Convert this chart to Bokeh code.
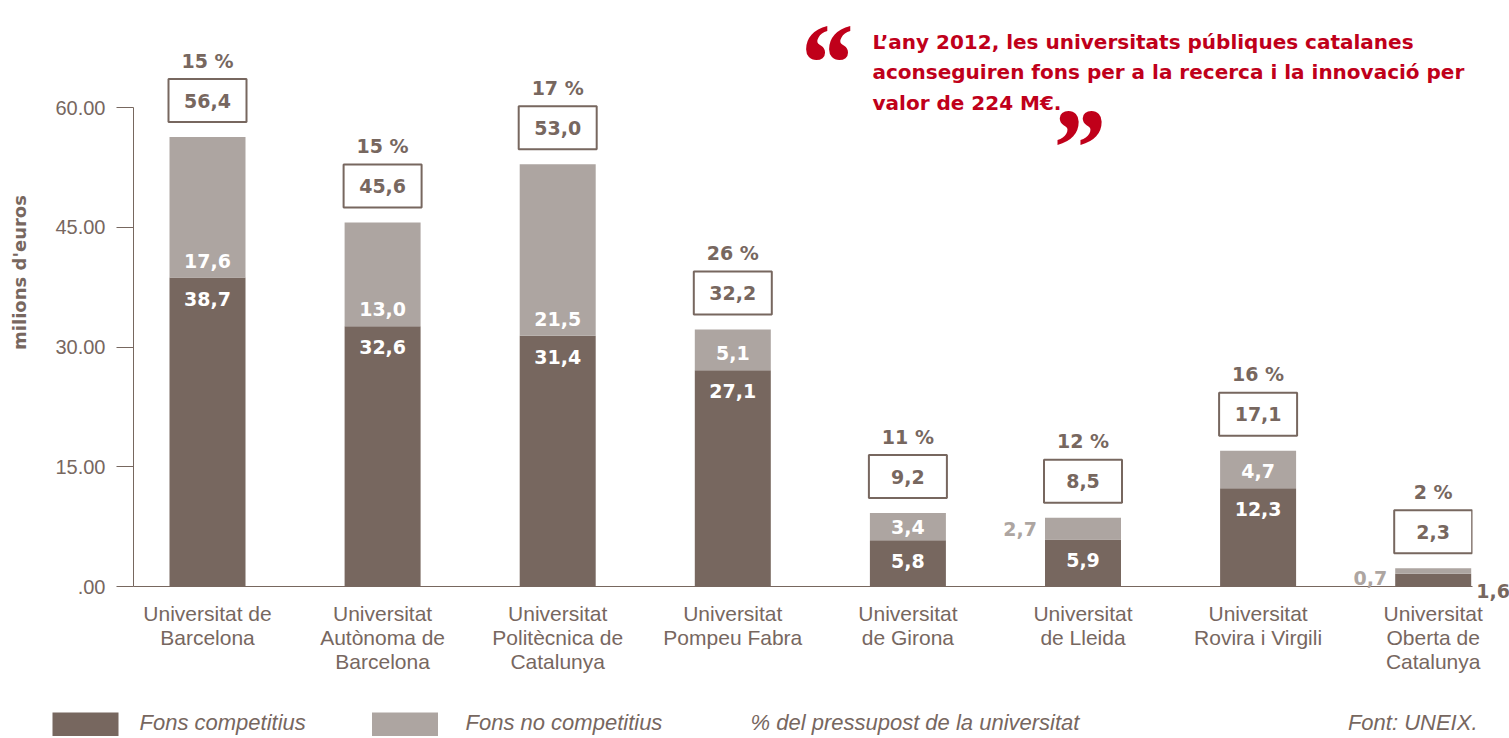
import math
from bokeh.plotting import figure
from bokeh.models import Range1d, FixedTicker
from bokeh.core.properties import value
from bokeh.embed import file_html
from bokeh.resources import INLINE

# ---------------- data ----------------
universities = [
    "Universitat de\nBarcelona",
    "Universitat\nAutònoma de\nBarcelona",
    "Universitat\nPolitècnica de\nCatalunya",
    "Universitat\nPompeu Fabra",
    "Universitat\nde Girona",
    "Universitat\nde Lleida",
    "Universitat\nRovira i Virgili",
    "Universitat\nOberta de\nCatalunya",
]
fons_competitius = [38.7, 32.6, 31.4, 27.1, 5.8, 5.9, 12.3, 1.6]
fons_no_competitius = [17.6, 13.0, 21.5, 5.1, 3.4, 2.7, 4.7, 0.7]
totals = [56.4, 45.6, 53.0, 32.2, 9.2, 8.5, 17.1, 2.3]
pct_pressupost = [15, 15, 17, 26, 11, 12, 16, 2]
y_ticks = [0, 15, 30, 45, 60]
y_tick_labels = [".00", "15.00", "30.00", "45.00", "60.00"]

quote_lines = [
    "L’any 2012, les universitats públiques catalanes",
    "aconseguiren fons per a la recerca i la innovació per",
    "valor de 224 M€.",
]
legend_labels = ["Fons competitius", "Fons no competitius", "% del pressupost de la universitat"]
source_note = "Font: UNEIX."
y_axis_title = "milions d'euros"

# ---------------- style / layout ----------------
DARK = "#77675f"
LIGHT = "#ada5a1"
RED = "#c0001a"
BOLD_FONT = "DejaVu Sans"
REG_FONT = "Liberation Sans"

W, H = 1509, 736
FRAME_L, FRAME_R, FRAME_T, FRAME_B = 133, 1472, 0, 586
CAT0 = 207.0      # pixel centre of first category
PXX = 175.1       # pixels per category
PXY = 7.983       # pixels per unit (millions)


def dx(px):
    return (px - CAT0) / PXX


def dy(py):
    return (FRAME_B - py) / PXY


p = figure(width=W, height=H, output_backend="svg", toolbar_location=None,
           x_range=Range1d(dx(FRAME_L), dx(FRAME_R)),
           y_range=Range1d(0, (FRAME_B - FRAME_T) / PXY),
           min_border_left=FRAME_L, min_border_right=W - FRAME_R,
           min_border_top=FRAME_T, min_border_bottom=H - FRAME_B)
p.outline_line_color = None
p.background_fill_color = "white"
p.border_fill_color = "white"
p.xgrid.visible = False
p.ygrid.visible = False

xs = list(range(len(universities)))
tops = [c + n for c, n in zip(fons_competitius, fons_no_competitius)]

# bars
BAR_W = 76 / PXX
p.vbar(x=xs, bottom=0, top=fons_competitius, width=BAR_W, fill_color=DARK, line_color=None)
p.vbar(x=xs, bottom=fons_competitius, top=tops, width=BAR_W, fill_color=LIGHT, line_color=None)

# axes
p.yaxis.ticker = FixedTicker(ticks=y_ticks)
p.yaxis.major_label_overrides = {t: l for t, l in zip(y_ticks, y_tick_labels)}
p.yaxis.bounds = (0, 60)
p.yaxis.major_tick_out = 17
p.yaxis.major_tick_in = 0
p.yaxis.minor_tick_line_color = None
p.yaxis.axis_line_color = DARK
p.yaxis.major_tick_line_color = DARK
p.yaxis.major_label_standoff = 11
p.yaxis.major_label_text_font = REG_FONT
p.yaxis.major_label_text_font_size = "20px"
p.yaxis.major_label_text_color = DARK

p.xaxis.ticker = FixedTicker(ticks=xs)
p.xaxis.major_label_overrides = {i: u for i, u in zip(xs, universities)}
p.xaxis.major_tick_out = 0
p.xaxis.major_tick_in = 0
p.xaxis.minor_tick_line_color = None
p.xaxis.axis_line_color = DARK
p.xaxis.major_label_standoff = 15
p.xaxis.major_label_text_font = REG_FONT
p.xaxis.major_label_text_font_size = "21px"
p.xaxis.major_label_text_line_height = 1.05
p.xaxis.major_label_text_color = DARK

TXT = dict(text_font=value(BOLD_FONT), text_font_style="bold", text_font_size=value("19px"))

p.text(x=[dx(19)], y=[dy(272)], text=[y_axis_title], angle=math.pi / 2,
       text_align="center", text_baseline="middle", text_font=value(BOLD_FONT),
       text_font_style="bold", text_font_size=value("18px"), text_color=DARK, level="overlay")

# total boxes and percentages
box_y = [t + (15 + 21.5) / PXY for t in tops]
pct_y = [b + 40 / PXY for b in box_y]
p.rect(x=xs, y=box_y, width=78 / PXX, height=43 / PXY, fill_color="white",
       line_color=DARK, line_width=2)
fmt = lambda v: f"{v:.1f}".replace(".", ",")
p.text(x=xs, y=box_y, text=[fmt(t) for t in totals], text_align="center",
       text_baseline="middle", text_color=DARK, **TXT)
p.text(x=xs, y=pct_y, text=[f"{v} %" for v in pct_pressupost], text_align="center",
       text_baseline="middle", text_color=DARK, **TXT)

# segment labels
OUTSIDE_LIGHT = {5, 7}
OUTSIDE_DARK = {7}
in_x, in_y, in_t = [], [], []
for i in xs:
    c, n = fons_competitius[i], fons_no_competitius[i]
    if i not in OUTSIDE_LIGHT:
        in_x.append(i)
        in_y.append(c + min(17 / PXY, n / 2))
        in_t.append(fmt(n))
    if i not in OUTSIDE_DARK:
        in_x.append(i)
        in_y.append(c - min(21 / PXY, c / 2))
        in_t.append(fmt(c))
p.text(x=in_x, y=in_y, text=in_t, text_align="center", text_baseline="middle",
       text_color="white", **TXT)

ol = sorted(OUTSIDE_LIGHT)
ol_x = [i - BAR_W / 2 - 8 / PXX for i in ol]
ol_y = [fons_competitius[i] + fons_no_competitius[i] / 2 if i == 5 else fons_competitius[i] - 0.5
        for i in ol]
p.text(x=ol_x, y=ol_y, text=[fmt(fons_no_competitius[i]) for i in ol],
       text_align="right", text_baseline="middle", text_color=LIGHT, level="overlay", **TXT)
od = sorted(OUTSIDE_DARK)
p.text(x=[i + BAR_W / 2 + 5 / PXX for i in od], y=[dy(590) for i in od],
       text=[fmt(fons_competitius[i]) for i in od], text_align="left",
       text_baseline="middle", text_color=DARK, level="overlay", **TXT)

# quote
p.text(x=[dx(872)] * 3, y=[dy(b) for b in (41, 71, 102)], text=quote_lines,
       text_align="left", text_baseline="alphabetic", text_font=value(BOLD_FONT),
       text_font_style="bold", text_font_size=value("20px"), text_color=RED, level="overlay")
QUOTE = dict(text_align="left", text_font=value("Liberation Serif"),
             text_font_style="bold italic", text_font_size=value("112px"), text_color=RED,
             level="overlay")
p.text(x=[dx(795)], y=[dy(0)], text=["“"], text_baseline="top", **QUOTE)
p.text(x=[dx(1047)], y=[dy(85)], text=["”"], text_baseline="top", **QUOTE)

# legend
p.rect(x=[dx(85), dx(404.5)], y=[dy(725), dy(725)], width=[66 / PXX] * 2, height=[26 / PXY] * 2,
       fill_color=[DARK, LIGHT], line_color=None, level="overlay")
p.text(x=[dx(139), dx(465), dx(750)], y=[dy(722)] * 3, text=legend_labels,
       text_align="left", text_baseline="middle", text_font=value(REG_FONT),
       text_font_style="italic", text_font_size=value("22px"), text_color=DARK, level="overlay")
p.text(x=[dx(1477)], y=[dy(722)], text=[source_note], text_align="right",
       text_baseline="middle", text_font=value(REG_FONT), text_font_style="italic",
       text_font_size=value("22px"), text_color=DARK, level="overlay")

open("out.html", "w").write(file_html(p, INLINE))
